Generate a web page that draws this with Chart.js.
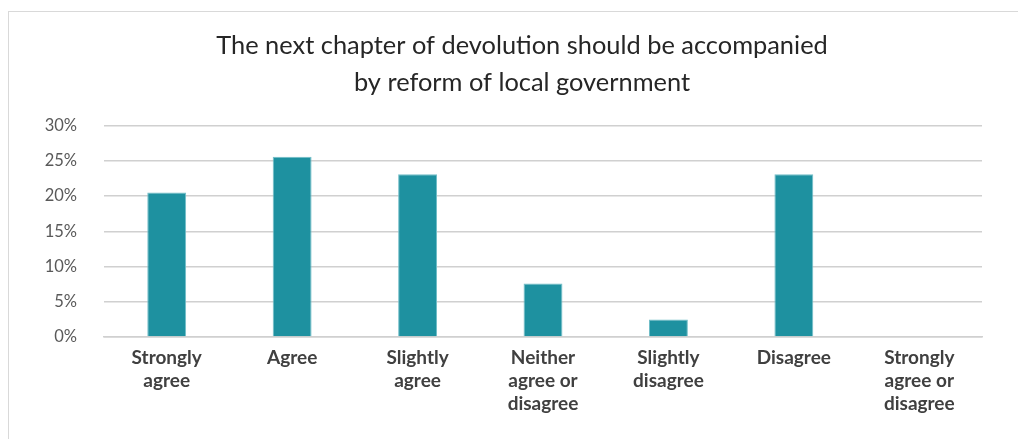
<!DOCTYPE html>
<html>
<head>
<meta charset="utf-8">
<script src="https://cdn.jsdelivr.net/npm/chart.js@4"></script>
<style>
    html, body { margin: 0; padding: 0; background: #fff; overflow: hidden; }
    .frame {
        position: absolute; left: 8px; top: 11px; width: 1030px; height: 450px;
        border: 1.5px solid #d9d9d9;
    }
    #devolutionChart { position: absolute; left: 0; top: 0; }
</style>
</head>
<body>
<div class="frame"></div>
<canvas id="devolutionChart" width="1018" height="439"></canvas>
<script>
const categories = [
    ['Strongly', 'agree'],
    'Agree',
    ['Slightly', 'agree'],
    ['Neither', 'agree or', 'disagree'],
    ['Slightly', 'disagree'],
    'Disagree',
    ['Strongly', 'agree or', 'disagree'],
];
const shares = [20.5, 25.6, 23.1, 7.6, 2.5, 23.1, 0];
const yTicks = [0, 5, 10, 15, 20, 25, 30];

// nudge the title block so its centre sits a little right of the canvas centre
const titleShift = {
    id: 'titleShift',
    afterLayout(chart) {
        if (chart.titleBlock) {
            chart.titleBlock.left += 62;
        }
    }
};

const devolution = document.getElementById('devolutionChart');

new Chart(devolution, {
    type: 'bar',
    data: {
        labels: categories,
        datasets: [{
            data: shares,
            backgroundColor: '#1e91a0',
            borderColor: '#72bec8',
            borderWidth: 1,
            barPercentage: 0.31,
            categoryPercentage: 1,
        }]
    },
    plugins: [titleShift],
    options: {
        responsive: false,
        animation: false,
        layout: {
            padding: { top: 12, right: 36, left: 0, bottom: 0 },
        },
        plugins: {
            legend: { display: false },
            tooltip: { enabled: false },
            title: {
                display: true,
                text: ['The next chapter of devolution should be accompanied', 'by reform of local government'],
                color: '#262626',
                font: { family: 'Lato', size: 25.4, weight: 'normal', lineHeight: 1.43 },
                padding: { top: 16, bottom: 25 },
            },
        },
        scales: {
            y: {
                min: 0,
                max: 30,
                afterFit: (scale) => { scale.width = 104; },
                afterBuildTicks: (scale) => {
                    scale.ticks = yTicks.map(v => ({ value: v }));
                },
                ticks: {
                    color: '#595959',
                    padding: 27,
                    font: { family: 'Lato', size: 16.5 },
                    callback: (v) => v + '%',
                },
                grid: {
                    color: '#d0d0d0',
                    lineWidth: 1.5,
                    drawTicks: false,
                },
                border: { display: false },
            },
            x: {
                afterFit: (scale) => { scale.height = 102; },
                ticks: {
                    color: '#404040',
                    padding: 1,
                    maxRotation: 0,
                    autoSkip: false,
                    font: { family: 'Lato', size: 19, weight: 'bold', lineHeight: 1.22 },
                },
                grid: { display: false },
                border: { color: '#d0d0d0', width: 1.5 },
            }
        }
    }
});
</script>
</body>
</html>
